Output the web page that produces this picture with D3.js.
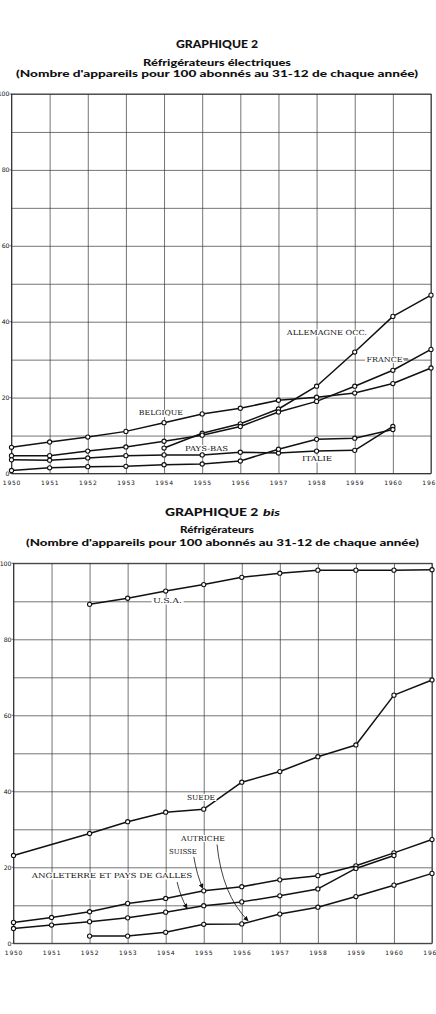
<!DOCTYPE html>
<html><head><meta charset="utf-8">
<script src="https://cdn.jsdelivr.net/npm/d3@7"></script>
<style>body{margin:0;background:#fff}svg{display:block}</style>
</head><body>
<svg id="c" width="436" height="1014"></svg>
<script>
// ---------- DATA ----------
const years = [1950,1951,1952,1953,1954,1955,1956,1957,1958,1959,1960,1961];
const yearLabels = ["1950","1951","1952","1953","1954","1955","1956","1957","1958","1959","1960","1961"];
const yTickLabels = [0,20,40,60,80,100];

// Graphique 2 — Réfrigérateurs électriques
const belgique  = [6.9,8.3,9.6,11.1,13.4,15.7,17.2,19.3,20.1,21.2,23.7,27.8];
const allemagne = [null,null,null,null,6.7,10.6,13.1,17.0,23.0,32.0,41.4,47.0];
const france    = [4.7,4.7,5.9,7.0,8.5,10.1,12.4,16.2,19.0,23.0,27.2,32.7];
const paysBas   = [3.6,3.5,4.1,4.7,4.9,4.9,5.6,5.4,5.9,6.1,12.4,null];
const italie    = [0.8,1.5,1.8,1.9,2.3,2.5,3.3,6.4,9.0,9.3,11.6,null];

// Graphique 2 bis — Réfrigérateurs
const usa        = [null,null,89.2,90.8,92.7,94.4,96.3,97.4,98.2,98.2,98.2,98.3];
const suede      = [23.1,null,28.9,32.0,34.5,35.3,42.4,45.2,49.1,52.2,65.3,69.3];
const suisse     = [5.5,6.8,8.3,10.5,11.8,13.8,14.9,16.7,17.8,20.4,23.8,27.3];
const angleterre = [3.9,4.8,5.7,6.7,8.2,9.9,10.9,12.5,14.3,19.7,23.1,null];
const autriche   = [null,null,1.9,1.9,2.9,5.0,5.1,7.7,9.5,12.3,15.3,18.4];

// labels: [text, year, value, widthInYears]
const labels1 = [
  ["ALLEMAGNE OCC.",1957.22,36.5,2.10],
  ["FRANCE",1959.31,29.5,0.944],
  ["BELGIQUE",1953.34,15.3,1.154],
  ["PAYS-BAS",1954.55,6.06,1.128],
  ["ITALIE",1957.62,3.3,0.787]
];
const labels2 = [
  ["U.S.A.",1953.67,89.55,0.762],
  ["SUEDE",1954.56,37.84,0.736],
  ["AUTRICHE",1954.40,27.05,1.157],
  ["SUISSE",1954.09,23.37,0.728],
  ["ANGLETERRE ET PAYS DE GALLES",1950.48,17.18,4.22]
];
// arrows: start, control, end in [year, value]
const arrows2 = [
  [[1954.74,22.74],[1954.82,18.0],[1954.97,14.55]],
  [[1954.30,16.13],[1954.40,11.92],[1954.56,9.29]],
  [[1955.35,26.0],[1955.48,12.84],[1956.16,5.99]]
];
const dash1 = [[1960.27,30.2],[1960.40,30.2]];

// ---------- DRAW ----------
const svg = d3.select("#c");
svg.append("rect").attr("width",436).attr("height",1014).attr("fill","#fff");
svg.append("defs").append("marker").attr("id","arr")
  .attr("viewBox","0 0 6 6").attr("refX",5).attr("refY",3)
  .attr("markerWidth",5).attr("markerHeight",5).attr("markerUnits","userSpaceOnUse")
  .attr("orient","auto")
  .append("path").attr("d","M0,0L6,3L0,6Z").attr("fill","#111");

const INK = "#111";
const titleFont = "Lato, 'Open Sans', sans-serif";
const serif = "'DejaVu Serif', 'Liberation Serif', serif";

function titleText(txt, cx, y, size, w, style) {
  const t = svg.append("text").attr("x",cx).attr("y",y).attr("text-anchor","middle")
    .attr("font-family",titleFont).attr("font-weight","900").attr("font-size",size)
    .attr("fill",INK).attr("textLength",w).attr("lengthAdjust","spacingAndGlyphs").text(txt);
  if (style) t.attr("font-style",style);
  return t;
}

// Titles chart 1
titleText("GRAPHIQUE 2",217,48,10.5,82);
titleText("Réfrigérateurs électriques",217,66,9.5,148);
titleText("(Nombre d'appareils pour 100 abonnés au 31-12 de chaque année)",217,76.5,9.5,402);
// Titles chart 2
titleText("GRAPHIQUE 2",211.7,516,10.5,93.3);
titleText("bis",271.5,516,10,17,"italic");
titleText("Réfrigérateurs",217,532.5,9.5,74);
titleText("(Nombre d'appareils pour 100 abonnés au 31-12 de chaque année)",222.5,545.5,9.5,393);

function drawChart(cfg) {
  const x = d3.scaleLinear().domain([1950,1961]).range(cfg.xr);
  const y = d3.scaleLinear().domain([0,100]).range(cfg.yr);
  const g = svg.append("g");
  const W = cfg.xr[1]-cfg.xr[0], H = cfg.yr[0]-cfg.yr[1];

  // horizontal grid + y labels
  const ya = g.append("g").attr("transform",`translate(${cfg.xr[0]},0)`)
    .call(d3.axisLeft(y).tickValues(d3.range(0,101,10)).tickSize(-W).tickPadding(2)
      .tickFormat(d => yTickLabels.includes(d) ? d : ""));
  ya.select(".domain").remove();
  ya.selectAll("line").attr("stroke","#3a3a3a").attr("stroke-width",0.7);
  ya.selectAll("text").attr("font-family","'DejaVu Sans', sans-serif").attr("font-size",6.2)
    .attr("fill","#111");
  // small outer ticks
  g.selectAll(".ot").data(yTickLabels).join("line")
    .attr("x1",cfg.xr[0]-2).attr("x2",cfg.xr[0]).attr("y1",d=>y(d)).attr("y2",d=>y(d))
    .attr("stroke","#3a3a3a").attr("stroke-width",0.7);

  // vertical grid + year labels
  const xa = g.append("g").attr("transform",`translate(0,${cfg.yr[0]})`)
    .call(d3.axisBottom(x).tickValues(years).tickSize(-H).tickPadding(7)
      .tickFormat((d,i) => yearLabels[i]));
  xa.select(".domain").remove();
  xa.selectAll("line").attr("stroke","#3a3a3a").attr("stroke-width",0.7);
  xa.selectAll("text").attr("font-family","'DejaVu Sans', sans-serif").attr("font-size",6)
    .attr("letter-spacing",0.8).attr("fill","#111");

  // frame
  g.append("rect").attr("x",cfg.xr[0]).attr("y",cfg.yr[1]).attr("width",W).attr("height",H)
    .attr("fill","none").attr("stroke","#2a2a2a").attr("stroke-width",0.9);

  // series
  const line = d3.line().x(d=>x(d[0])).y(d=>y(d[1]));
  cfg.series.forEach(s => {
    const pts = years.map((yr,i)=>[yr,s[i]]).filter(d=>d[1]!==null);
    g.append("path").attr("d",line(pts)).attr("fill","none").attr("stroke",INK)
      .attr("stroke-width",1.5).attr("stroke-linejoin","round");
    g.append("g").selectAll("circle").data(pts).join("circle")
      .attr("cx",d=>x(d[0])).attr("cy",d=>y(d[1])).attr("r",2.1)
      .attr("fill","#fff").attr("stroke",INK).attr("stroke-width",1.1);
  });

  // labels with white backgrounds
  cfg.labels.forEach(l => {
    const lg = g.append("g");
    const bg = lg.append("rect").attr("fill","#fff");
    const t = lg.append("text").attr("x",x(l[1])).attr("y",y(l[2]))
      .attr("font-family",serif).attr("font-size",7).attr("fill",INK)
      .attr("textLength",x(1950+l[3])-x(1950)).attr("lengthAdjust","spacingAndGlyphs").text(l[0]);
    const b = t.node().getBBox();
    bg.attr("x",b.x-1.5).attr("y",b.y+0.5).attr("width",b.width+3).attr("height",b.height-1);
  });

  (cfg.arrows||[]).forEach(a => {
    const p = d3.path();
    p.moveTo(x(a[0][0]),y(a[0][1]));
    p.quadraticCurveTo(x(a[1][0]),y(a[1][1]),x(a[2][0]),y(a[2][1]));
    g.append("path").attr("d",p.toString()).attr("fill","none").attr("stroke",INK)
      .attr("stroke-width",0.8).attr("marker-end","url(#arr)");
  });
  if (cfg.dash) {
    g.append("line").attr("x1",x(cfg.dash[0][0])).attr("x2",x(cfg.dash[1][0]))
      .attr("y1",y(cfg.dash[0][1])).attr("y2",y(cfg.dash[1][1]))
      .attr("stroke",INK).attr("stroke-width",0.8);
  }
}

drawChart({xr:[11.5,431], yr:[473.5,94],
  series:[belgique,allemagne,france,paysBas,italie], labels:labels1, dash:dash1});
drawChart({xr:[13.5,432], yr:[943.3,563.3],
  series:[usa,suede,suisse,angleterre,autriche], labels:labels2, arrows:arrows2});
</script>
</body></html>
